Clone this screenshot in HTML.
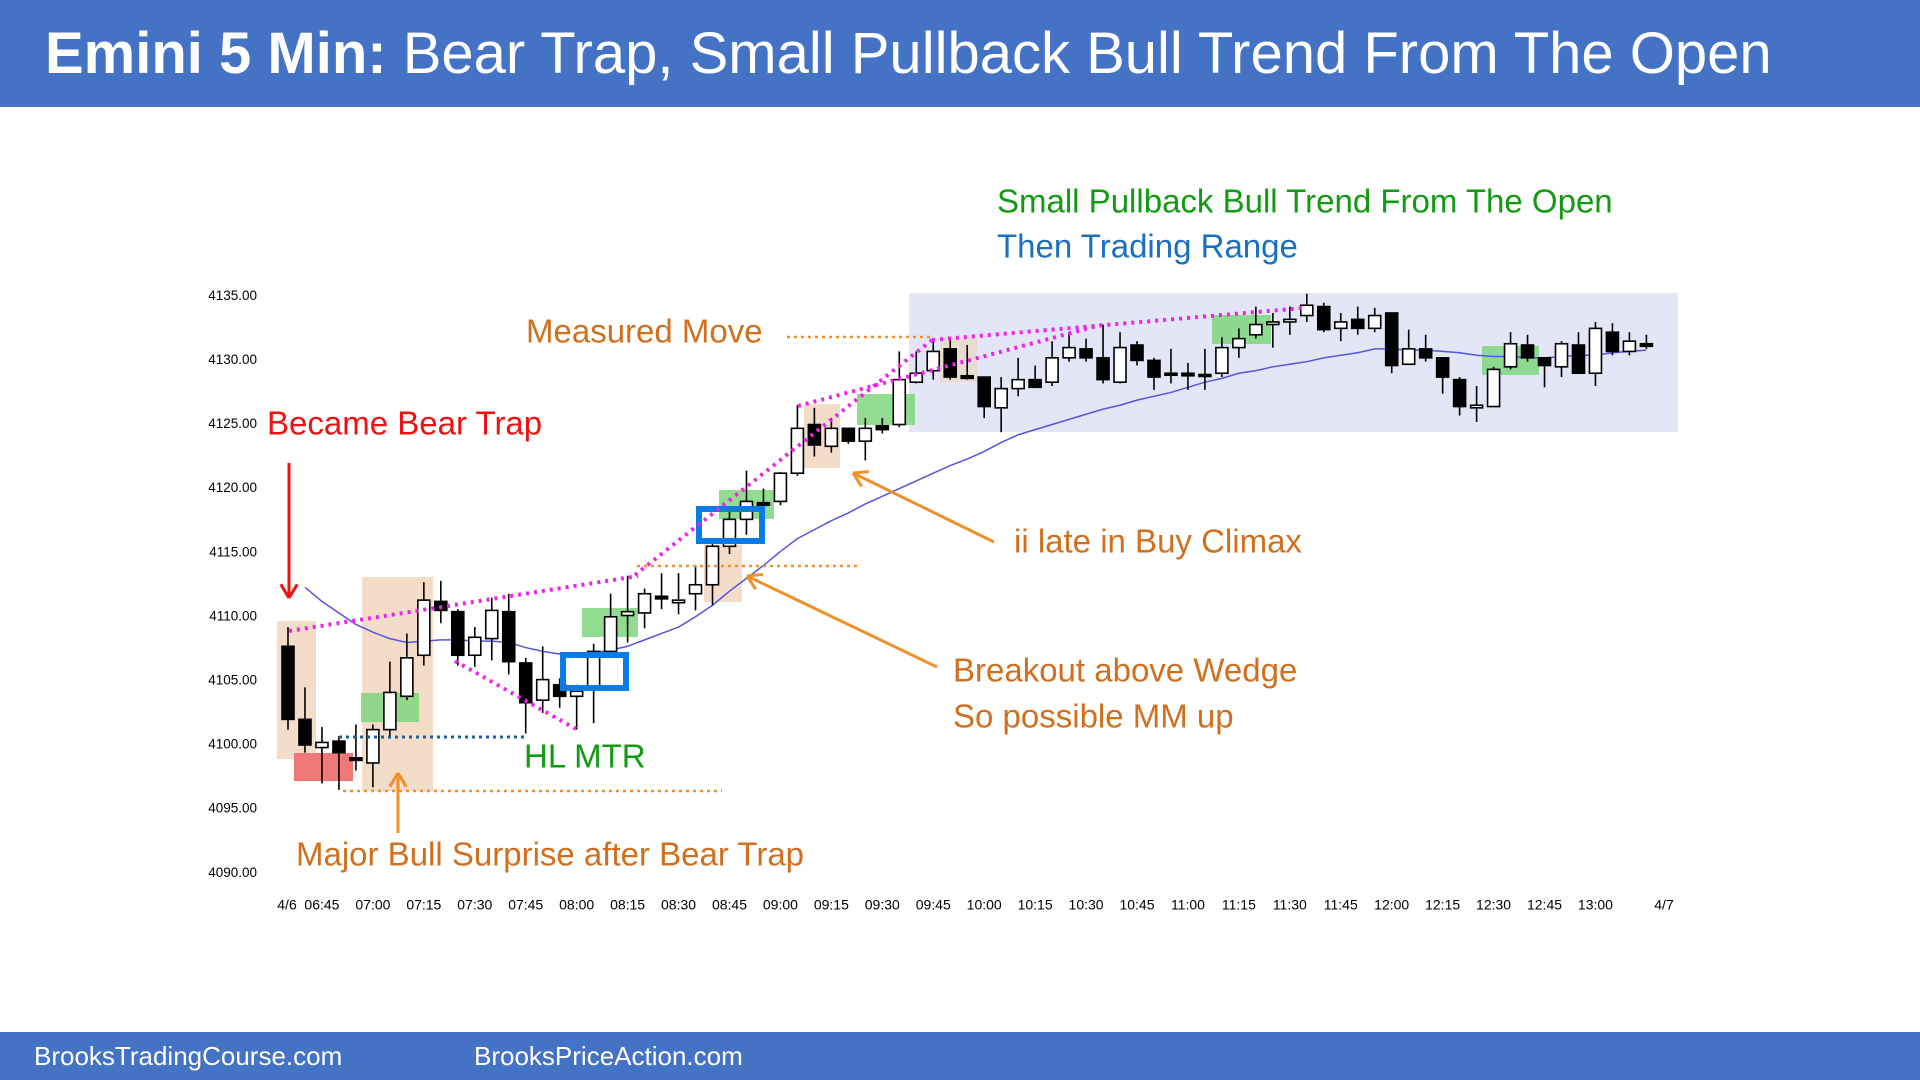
<!DOCTYPE html>
<html><head><meta charset="utf-8">
<style>
body{margin:0;width:1920px;height:1080px;overflow:hidden;background:#fff;font-family:"Liberation Sans",sans-serif;}
#title{position:absolute;left:0;top:0;width:1920px;height:107px;background:#4472C4;color:#fff;}
#title span{position:absolute;left:45px;top:20px;font-size:58px;white-space:nowrap;}
#footer{position:absolute;left:0;top:1032px;width:1920px;height:48px;background:#4472C4;color:#fff;font-size:26px;}
#footer span{position:absolute;top:9px;}
svg{position:absolute;left:0;top:0;}
</style></head><body>
<div id="title"><span><b>Emini 5 Min:</b> Bear Trap, Small Pullback Bull Trend From The Open</span></div>
<svg id="chart" width="1920" height="1080"></svg>
<div id="footer"><span style="left:34px">BrooksTradingCourse.com</span><span style="left:474px">BrooksPriceAction.com</span></div>
<script>
const opens=[4107.7,4102,4099.8,4100.3,4099,4098.6,4101.2,4103.8,4107,4111.2,4110.4,4107,4108.3,4110.4,4106.4,4103.5,4104.7,4103.8,4104.3,4107.3,4110.1,4110.3,4111.6,4111.1,4111.8,4112.5,4115.5,4117.6,4118.9,4119.0,4121.2,4125.0,4123.3,4124.7,4123.7,4124.9,4125.0,4128.3,4129.2,4130.9,4128.8,4128.7,4126.3,4127.8,4128.5,4128.3,4130.2,4130.9,4130.2,4128.3,4131.2,4130.0,4129.0,4129.0,4128.9,4129.0,4131.0,4132.0,4132.8,4133.0,4133.5,4134.2,4132.5,4133.2,4132.5,4133.7,4129.7,4130.9,4130.2,4128.5,4126.3,4126.4,4129.5,4131.2,4130.2,4129.5,4131.2,4129.0,4132.2,4130.7,4131.3];
const closes=[4102,4100,4100.2,4099.4,4098.8,4101.2,4104.1,4106.8,4111.3,4110.5,4107,4108.4,4110.5,4106.5,4103.3,4105.1,4103.8,4104.2,4107.3,4110,4110.4,4111.8,4111.4,4111.3,4112.5,4115.5,4117.6,4119.0,4118.7,4121.2,4124.7,4123.4,4124.7,4123.7,4124.7,4124.6,4128.5,4129.0,4130.7,4128.7,4128.6,4126.4,4127.8,4128.5,4127.9,4130.2,4131.0,4130.2,4128.5,4131.0,4130.0,4128.7,4128.9,4128.8,4128.8,4131.0,4131.7,4132.8,4133.0,4133.2,4134.3,4132.4,4133.0,4132.5,4133.5,4129.6,4130.9,4130.2,4128.7,4126.4,4126.5,4129.3,4131.3,4130.2,4129.6,4131.3,4129.0,4132.5,4130.7,4131.5,4131.1];
const highs=[4109.2,4104.5,4101.4,4100.7,4101.6,4101.6,4106.5,4108.7,4112.7,4112.8,4110.6,4109.2,4111.5,4111.8,4106.8,4107.7,4105.2,4104.7,4107.9,4111.8,4113.2,4112.2,4113.4,4113.4,4114,4115.8,4118.2,4121.4,4120,4121.3,4126.5,4126.3,4125.5,4124.7,4125.5,4125.5,4130.7,4130.7,4131.7,4131.7,4131.2,4128.7,4128.7,4130.2,4129.6,4131.5,4132.2,4131.7,4132.8,4132.2,4131.5,4130.2,4130.9,4129.8,4130.9,4131.8,4132.5,4134.2,4133.7,4134.2,4135.2,4134.5,4133.7,4134.2,4134.1,4133.7,4132.4,4132.0,4130.2,4128.7,4128.0,4129.5,4132.2,4132.0,4130.2,4131.5,4132.2,4133.0,4132.9,4132.2,4132.0];
const lows=[4101.2,4099.4,4097.0,4096.5,4098.0,4096.7,4100.5,4103.5,4106.2,4109.5,4106.2,4106.1,4106.6,4105.5,4100.9,4102.5,4102.9,4101.2,4101.7,4107.2,4108.0,4109.1,4110.6,4110.2,4110.5,4110.9,4114.9,4116.4,4118.5,4118.7,4121.0,4122.5,4122.8,4123.5,4122.2,4124.3,4124.8,4128.2,4128.5,4128.5,4128.5,4125.5,4124.4,4127.2,4127.9,4128.0,4129.9,4129.9,4128.2,4128.2,4129.6,4127.7,4128.2,4127.7,4127.7,4128.7,4130.2,4131.7,4131.0,4132.0,4133.0,4132.2,4131.5,4132.0,4132.2,4129.0,4129.7,4129.9,4127.4,4125.7,4125.2,4126.4,4129.3,4129.9,4127.9,4128.7,4129.0,4128.0,4130.4,4130.4,4130.9];
const ema=[null,4112.3,4111.2,4110.3,4109.4,4108.8,4108.3,4108.0,4108.1,4108.2,4108.2,4108.1,4108.1,4108.0,4107.6,4107.3,4107.1,4107.0,4107.2,4107.4,4107.7,4108.2,4108.7,4109.2,4110.0,4110.9,4112.0,4113.0,4114.0,4115.1,4116.1,4116.8,4117.5,4118.1,4118.8,4119.4,4120.0,4120.6,4121.2,4121.8,4122.3,4122.9,4123.6,4124.2,4124.6,4125.0,4125.4,4125.8,4126.2,4126.5,4126.9,4127.2,4127.5,4127.9,4128.3,4128.6,4129.0,4129.2,4129.5,4129.7,4129.9,4130.2,4130.4,4130.6,4130.9,4130.9,4130.8,4130.8,4130.7,4130.6,4130.4,4130.3,4130.3,4130.2,4130.2,4130.3,4130.4,4130.4,4130.6,4130.7,4130.8];
const yTicks=[4135,4130,4125,4120,4115,4110,4105,4100,4095,4090];
const xTickBars=[2,5,8,11,14,17,20,23,26,29,32,35,38,41,44,47,50,53,56,59,62,65,68,71,74,77];
const xTickLabels=["06:45","07:00","07:15","07:30","07:45","08:00","08:15","08:30","08:45","09:00","09:15","09:30","09:45","10:00","10:15","10:30","10:45","11:00","11:15","11:30","11:45","12:00","12:15","12:30","12:45","13:00"];

const NS="http://www.w3.org/2000/svg";
const svg=document.getElementById('chart');
function X(i){return 288+i*16.98;}
function Y(p){return 296.3+(4135-p)*12.82;}
function mk(tag,attrs,parent){const e=document.createElementNS(NS,tag);for(const k in attrs)e.setAttribute(k,attrs[k]);(parent||svg).appendChild(e);return e;}
function txt(s,x,y,size,color,name,anchor){const t=mk('text',{x:x,y:y,'font-size':size,fill:color,'font-family':'"Liberation Sans",sans-serif','text-anchor':anchor||'start','dominant-baseline':'middle'});t.textContent=s;


return t;}
function rect(x1,y1,x2,y2,fill,name,op){const r=mk('rect',{x:x1,y:y1,width:x2-x1,height:y2-y1,fill:fill,'fill-opacity':op==null?1:op});


return r;}
function line(x1,y1,x2,y2,color,w,dash,name){const l=mk('line',{x1:x1,y1:y1,x2:x2,y2:y2,stroke:color,'stroke-width':w,'stroke-dasharray':dash||'none'});


return l;}

rect(909,293,1678,432,'#e3e6f7','trading-range-box');
rect(277,621,316,759,'#f3dcc8','bear-trap-highlight');
rect(362,577,433,791,'#f3dcc8','bull-surprise-highlight');
rect(704,545,742,602,'#f3dcc8','breakout-highlight');
rect(804,404,840,468,'#f3dcc8','ii-highlight');
rect(940,337,977,382,'#e8dcd0','mm-highlight');
rect(294,753,353,781,'#f07878','bear-signal-box');
[[361,693,419,722],[582,608,638,637],[719,490,774,519],[857,394,915,425],[1212,315,1271,344],[1482,346,1539,375]].forEach(b=>{rect(b[0],b[1],b[2],b[3],'#7fd67f','buy-zone',0.85);});

yTicks.forEach(v=>{txt(v.toFixed(2),257,Y(v),13.5,'#000','y-tick-label','end');});
txt('4/6',287,906,14,'#000','x-date-label','middle');
xTickBars.forEach((b,k)=>{txt(xTickLabels[k],X(b),906,14,'#000','x-tick-label','middle');});
txt('4/7',1664,906,14,'#000','x-date-label','middle');

let d='';ema.forEach((v,i)=>{if(v==null)return;d+=(d?'L':'M')+X(i)+' '+Y(v);});
const em=mk('path',{d:d,fill:'none',stroke:'#5555dd','stroke-width':1.5});



opens.forEach((o,i)=>{const c=closes[i],x=X(i);
const g=mk('g',{});


mk('line',{x1:x,x2:x,y1:Y(highs[i]),y2:Y(lows[i]),stroke:'#000','stroke-width':1.6},g);
const top=Y(Math.max(o,c)),bot=Y(Math.min(o,c));
mk('rect',{x:x-6,y:top,width:12,height:Math.max(bot-top,2),fill:c>=o?'#fff':'#000',stroke:'#000','stroke-width':1.6},g);
});

[[563,655,626,688],[699,509,762,541]].forEach(b=>{const r=mk('rect',{x:b[0],y:b[1],width:b[2]-b[0],height:b[3]-b[1],fill:'none',stroke:'#0a7be6','stroke-width':6});

});

const md='3 5';
line(289,631,638,576,'#ee22ee',4,md,'wedge-top-line');
line(635,575,932,340,'#ee22ee',4,md,'channel-line');
line(932,340,1303,308,'#ee22ee',4,md,'upper-trend-line');
line(798,406,1101,325,'#ee22ee',4,md,'lower-trend-line');
line(455,661,576,729,'#ee22ee',4,md,'wedge-bottom-line');
line(787,337,931,337,'#f0902a',2.5,'3 4','measured-move-line');
line(637,566,857,566,'#f0902a',2.5,'3 4','breakout-line');
line(343,791,722,791,'#f0902a',2.5,'3 4','bull-surprise-line');
line(339,737,527,737,'#1f5fa0',3,'3 4','hl-mtr-line');

function arrow(x1,y1,x2,y2,color,name){const g=mk('g',{});


mk('line',{x1:x1,y1:y1,x2:x2,y2:y2,stroke:color,'stroke-width':3},g);
const a=Math.atan2(y2-y1,x2-x1),L=16;
[a+2.6,a-2.6].forEach(t=>mk('line',{x1:x2,y1:y2,x2:x2+L*Math.cos(t),y2:y2+L*Math.sin(t),stroke:color,'stroke-width':3},g));}
arrow(289,463,289,598,'#ee1111','bear-trap-arrow');
arrow(398,833,398,773,'#f0902a','bull-surprise-arrow');
arrow(994,542,853,473,'#f0902a','ii-arrow');
arrow(937,667,747,576,'#f0902a','breakout-arrow');

txt('Small Pullback Bull Trend From The Open',997,204,33,'#129a12','trend-annotation');
txt('Then Trading Range',997,249,33,'#1a6fc0','range-annotation');
txt('Measured Move',526,334,33,'#d0701f','measured-move-label');
txt('Became Bear Trap',267,426,33,'#ee1111','bear-trap-label');
txt('ii late in Buy Climax',1014,544,33,'#d0701f','ii-label');
txt('Breakout above Wedge',953,673,33,'#d0701f','breakout-label');
txt('So possible MM up',953,719,33,'#d0701f','mm-up-label');
txt('HL MTR',524,759,33,'#129a12','hl-mtr-label');
txt('Major Bull Surprise after Bear Trap',296,857,33,'#d0701f','bull-surprise-label');
</script>
</body></html>
